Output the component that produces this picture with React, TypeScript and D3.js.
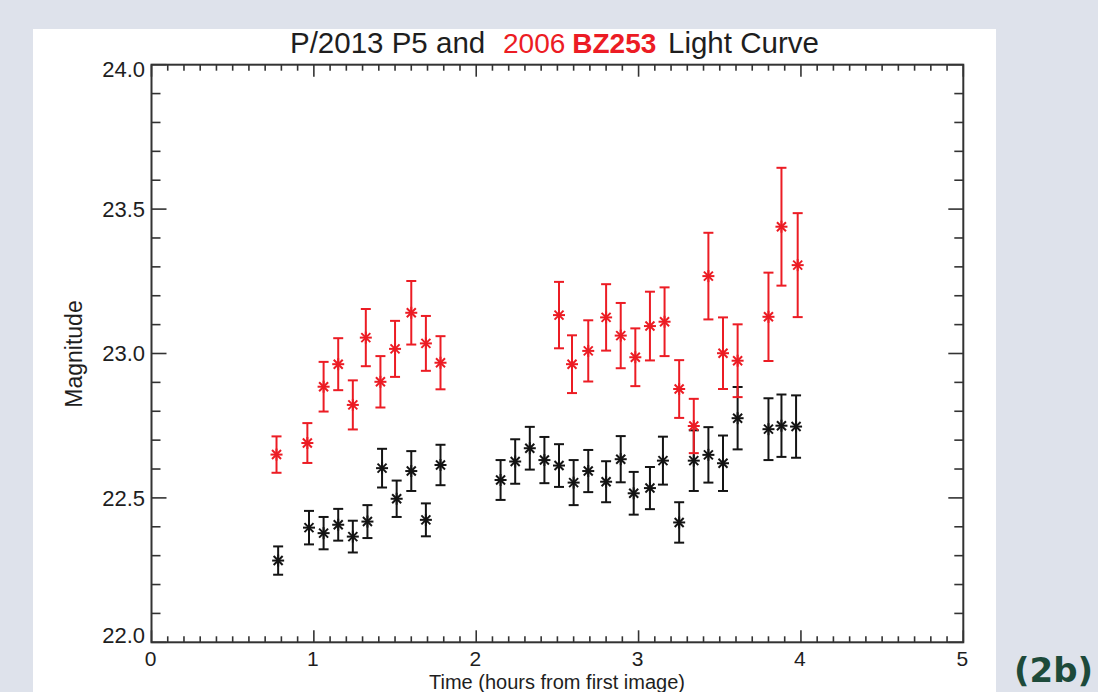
import React from "react";
import * as d3 from "d3";

// ---- data ----
const redTime = [0.77, 0.96, 1.06, 1.15, 1.24, 1.32, 1.41, 1.50, 1.60, 1.69, 1.78, 2.51, 2.59, 2.69, 2.80, 2.89, 2.98, 3.07, 3.16, 3.25, 3.34, 3.43, 3.52, 3.61, 3.80, 3.88, 3.98];
const redMag = [22.65, 22.69, 22.885, 22.963, 22.822, 23.055, 22.902, 23.016, 23.141, 23.035, 22.968, 23.133, 22.963, 23.009, 23.125, 23.062, 22.987, 23.095, 23.11, 22.877, 22.749, 23.268, 23.001, 22.975, 23.127, 23.439, 23.306];
const redErr = [0.063, 0.069, 0.086, 0.09, 0.085, 0.099, 0.089, 0.097, 0.11, 0.095, 0.092, 0.115, 0.1, 0.106, 0.115, 0.113, 0.1, 0.119, 0.119, 0.1, 0.094, 0.15, 0.124, 0.126, 0.153, 0.204, 0.18];

const blackTime = [0.78, 0.97, 1.06, 1.15, 1.24, 1.33, 1.42, 1.51, 1.60, 1.69, 1.78, 2.15, 2.24, 2.33, 2.42, 2.51, 2.60, 2.69, 2.80, 2.89, 2.97, 3.07, 3.15, 3.25, 3.34, 3.43, 3.52, 3.61, 3.80, 3.88, 3.97];
const blackMag = [22.283, 22.397, 22.378, 22.407, 22.366, 22.418, 22.603, 22.497, 22.593, 22.424, 22.614, 22.562, 22.626, 22.672, 22.631, 22.612, 22.553, 22.593, 22.556, 22.634, 22.516, 22.534, 22.629, 22.415, 22.629, 22.649, 22.62, 22.776, 22.738, 22.75, 22.747];
const blackErr = [0.049, 0.058, 0.056, 0.055, 0.055, 0.057, 0.067, 0.063, 0.069, 0.057, 0.07, 0.069, 0.077, 0.074, 0.08, 0.074, 0.078, 0.073, 0.071, 0.08, 0.074, 0.073, 0.083, 0.07, 0.105, 0.096, 0.096, 0.108, 0.107, 0.108, 0.108];

const xMajorTicks = [0, 1, 2, 3, 4, 5];
const xTickLabels = ["0", "1", "2", "3", "4", "5"];
const yMajorTicks = [22.0, 22.5, 23.0, 23.5, 24.0];
const yTickLabels = ["22.0", "22.5", "23.0", "23.5", "24.0"];

const titleParts = ["P/2013 P5 and", "2006", "BZ253", "Light Curve"];
const xTitle = "Time (hours from first image)";
const yTitle = "Magnitude";
const figLabel = "(2b)";

const W = 1098;
const H = 692;
const L = 151.5, R = 963.3, T = 64.7, B = 642.3;
const FONT = "'Liberation Sans', Arial, Helvetica, sans-serif";
const RED = "#ec1c24";
const BLACK = "#141414";
const AXIS = "#333";

function Asterisk({ cx, cy, color }: { cx: number; cy: number; color: string }) {
  const r = 6;
  const d = r * 0.75;
  return (
    <g stroke={color} strokeWidth={2}>
      <line x1={cx - r} y1={cy} x2={cx + r} y2={cy} />
      <line x1={cx} y1={cy - r} x2={cx} y2={cy + r} />
      <line x1={cx - d} y1={cy - d} x2={cx + d} y2={cy + d} />
      <line x1={cx - d} y1={cy + d} x2={cx + d} y2={cy - d} />
    </g>
  );
}

function Series({ t, m, e, color, x, y }: any) {
  const cap = 5;
  return (
    <g>
      {t.map((tv: number, i: number) => {
        const cx = x(tv);
        const cy = y(m[i]);
        const y1 = y(m[i] + e[i]);
        const y2 = y(m[i] - e[i]);
        return (
          <g key={i}>
            <g stroke={color} strokeWidth={2}>
              <line x1={cx} y1={y1} x2={cx} y2={y2} />
              <line x1={cx - cap} y1={y1} x2={cx + cap} y2={y1} />
              <line x1={cx - cap} y1={y2} x2={cx + cap} y2={y2} />
            </g>
            <Asterisk cx={cx} cy={cy} color={color} />
          </g>
        );
      })}
    </g>
  );
}

export default function App() {
  const x = d3.scaleLinear().domain([0, 5]).range([L, R]);
  const y = d3.scaleLinear().domain([22, 24]).range([B, T]);

  const xMinor = d3.range(0, 50).map((i) => i / 10).filter((v) => Math.abs(v - Math.round(v)) > 1e-6);
  const yMinor = d3.range(220, 241).map((i) => i / 10).filter((v) => Math.abs(v * 2 - Math.round(v * 2)) > 1e-6);

  const xMaj = 12, xMin = 6, yMaj = 15, yMin = 9;

  return (
    <svg width={W} height={H} style={{ position: "absolute", left: 0, top: 0 }} fontFamily={FONT}>
      <rect x={0} y={0} width={W} height={H} fill="#dee2eb" />
      <rect x={33} y={29} width={963} height={H - 29} fill="#ffffff" />

      {/* ticks */}
      <g stroke={AXIS} strokeWidth={1.6}>
        {xMajorTicks.map((v) => (
          <g key={"xM" + v}>
            <line x1={x(v)} x2={x(v)} y1={B} y2={B - xMaj} />
            <line x1={x(v)} x2={x(v)} y1={T} y2={T + xMaj} />
          </g>
        ))}
        {xMinor.map((v) => (
          <g key={"xm" + v}>
            <line x1={x(v)} x2={x(v)} y1={B} y2={B - xMin} />
            <line x1={x(v)} x2={x(v)} y1={T} y2={T + xMin} />
          </g>
        ))}
        {yMajorTicks.map((v) => (
          <g key={"yM" + v}>
            <line x1={L} x2={L + yMaj} y1={y(v)} y2={y(v)} />
            <line x1={R} x2={R - yMaj} y1={y(v)} y2={y(v)} />
          </g>
        ))}
        {yMinor.map((v) => (
          <g key={"ym" + v}>
            <line x1={L} x2={L + yMin} y1={y(v)} y2={y(v)} />
            <line x1={R} x2={R - yMin} y1={y(v)} y2={y(v)} />
          </g>
        ))}
      </g>
      <rect x={L} y={T} width={R - L} height={B - T} fill="none" stroke={AXIS} strokeWidth={2} />

      {/* tick labels */}
      <g fill="#1e1e1e">
        {xMajorTicks.map((v, i) => (
          <text key={"xl" + v} x={x(v) - 1} y={666} fontSize={21} textAnchor="middle">{xTickLabels[i]}</text>
        ))}
        {yMajorTicks.map((v, i) => {
          const off = v === 24 ? 4.5 : v === 22 ? -7.5 : 0;
          return (
            <text key={"yl" + v} x={145} y={y(v) + off} dy="0.36em" fontSize={22} textAnchor="end">{yTickLabels[i]}</text>
          );
        })}
      </g>

      {/* axis titles */}
      <text x={557} y={689} fontSize={20} textAnchor="middle" fill="#1e1e1e">{xTitle}</text>
      <text transform={`translate(82,${354}) rotate(-90)`} fontSize={23} textAnchor="middle" fill="#1e1e1e">{yTitle}</text>

      {/* title */}
      <text x={290} y={53} fontSize={29.5} fill="#1e1e1e">
        <tspan>{titleParts[0]}</tspan>
        <tspan x={503} fill={RED} fontSize={28}>{titleParts[1]}</tspan>
        <tspan dx={7} fill={RED} fontSize={28} fontWeight="bold">{titleParts[2]}</tspan>
        <tspan x={668}>{titleParts[3]}</tspan>
      </text>

      {/* data */}
      <Series t={blackTime} m={blackMag} e={blackErr} color={BLACK} x={x} y={y} />
      <Series t={redTime} m={redMag} e={redErr} color={RED} x={x} y={y} />

      <text x={1014} y={682} fontSize={34} fontWeight="bold" fill="#1d4a3a" fontFamily="'DejaVu Sans', sans-serif">{figLabel}</text>
    </svg>
  );
}
